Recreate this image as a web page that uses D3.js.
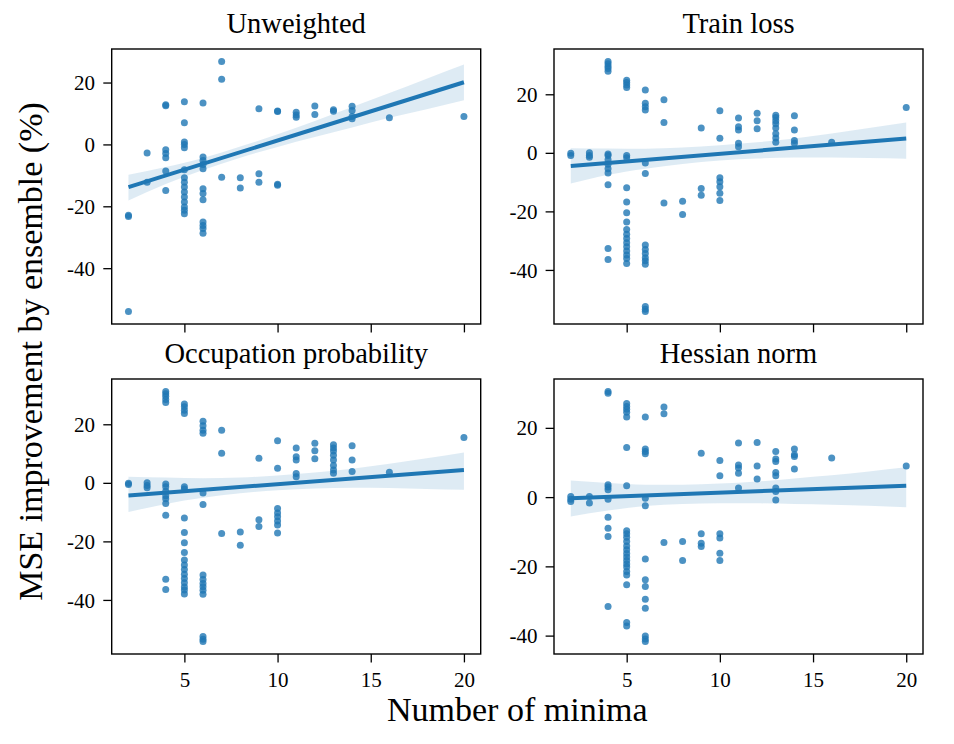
<!DOCTYPE html>
<html><head><meta charset="utf-8">
<script src="https://cdn.jsdelivr.net/npm/d3@7"></script>
<style>
body{margin:0;background:#fff}
svg{display:block}
text{font-family:"Liberation Serif","Times New Roman",serif;fill:#000}
</style>
</head><body>
<svg id="chart" width="954" height="744"></svg>
<script>
// ---------- data ----------
const titles = ["Unweighted", "Train loss", "Occupation probability", "Hessian norm"];
const xTicks = [5, 10, 15, 20];
const yTicks = [20, 0, -20, -40];
const xLabel = "Number of minima";
const yLabel = "MSE improvement by ensemble (%)";

const unweighted = [
  [2,-22.9],[2,-23.3],[2,-54.0],
  [3,-2.8],[3,-12.2],
  [4,12.5],[4,12.8],[4,-1.7],[4,-2.9],[4,-4.3],[4,-8.6],[4,-14.9],
  [5,13.8],[5,7.0],[5,0.8],[5,0.0],[5,-1.1],[5,-8.2],[5,-10.8],[5,-12.2],[5,-13.8],[5,-15.4],[5,-17.0],[5,-18.6],[5,-20.2],[5,-21.3],[5,-22.4],
  [6,13.4],[6,-4.1],[6,-5.2],[6,-6.5],[6,-7.9],[6,-14.3],[6,-15.9],[6,-17.9],[6,-25.1],[6,-26.2],[6,-27.2],[6,-28.7],
  [7,26.8],[7,21.1],[7,-10.6],
  [8,-10.8],[8,-14.1],
  [9,11.5],[9,-9.5],[9,-12.2],
  [10,10.8],[10,10.6],[10,-12.9],[10,-13.2],
  [11,10.4],[11,9.5],[11,8.8],
  [12,12.4],[12,9.7],
  [13,11.2],[13,10.7],
  [14,12.3],[14,11.0],[14,9.0],[14,8.3],
  [16,8.6],
  [20,9.0]
];
const trainLoss = [
  [2,-0.1],[2,-0.9],
  [3,0.0],[3,-0.9],[3,-1.5],
  [4,31.2],[4,30.4],[4,29.6],[4,28.8],[4,27.9],[4,-0.4],[4,-0.9],[4,-2.4],[4,-3.9],[4,-5.4],[4,-6.9],[4,-10.9],[4,-32.7],[4,-36.4],
  [5,24.8],[5,24.0],[5,23.2],[5,22.3],[5,-0.9],[5,-1.7],[5,-11.9],[5,-16.8],[5,-20.5],[5,-23.6],[5,-26.2],[5,-27.8],[5,-29.3],[5,-30.7],[5,-32.1],[5,-33.5],[5,-34.9],[5,-36.1],[5,-37.8],
  [6,21.5],[6,16.9],[6,15.7],[6,14.6],[6,-3.5],[6,-7.1],[6,-31.5],[6,-33.0],[6,-34.4],[6,-35.8],[6,-36.9],[6,-38.1],[6,-52.5],[6,-53.4],[6,-54.2],
  [7,18.1],[7,10.4],[7,-17.1],
  [8,-16.5],[8,-21.1],
  [9,8.5],[9,-12.2],[9,-14.5],
  [10,14.4],[10,5.0],[10,-8.5],[10,-9.9],[10,-11.6],[10,-13.8],[10,-16.3],
  [11,11.9],[11,8.9],[11,7.8],[11,3.3],[11,2.1],
  [12,13.5],[12,11.0],[12,8.2],
  [13,12.8],[13,12.1],[13,11.0],[13,9.9],[13,8.5],[13,6.5],[13,5.1],[13,3.6],
  [14,12.7],[14,7.8],[14,4.2],[14,3.3],
  [16,3.6],
  [20,15.5]
];
const occupation = [
  [2,-0.1],[2,-0.6],
  [3,0.0],[3,-0.9],[3,-1.7],
  [4,31.2],[4,30.4],[4,29.6],[4,28.5],[4,27.4],[4,-0.4],[4,-1.3],[4,-2.9],[4,-4.4],[4,-5.4],[4,-7.1],[4,-11.1],[4,-32.9],[4,-36.4],
  [5,26.9],[5,26.0],[5,24.8],[5,23.7],[5,-1.3],[5,-2.1],[5,-12.0],[5,-17.0],[5,-20.5],[5,-23.8],[5,-26.4],[5,-28.1],[5,-29.6],[5,-31.2],[5,-32.7],[5,-34.1],[5,-35.6],[5,-36.6],[5,-38.0],
  [6,21.0],[6,19.5],[6,18.0],[6,16.9],[6,-3.5],[6,-7.4],[6,-31.5],[6,-33.0],[6,-34.4],[6,-35.5],[6,-36.7],[6,-38.1],[6,-52.5],[6,-53.4],[6,-54.2],
  [7,18.0],[7,10.1],[7,-17.3],
  [8,-16.8],[8,-21.3],
  [9,8.4],[9,-12.6],[9,-14.9],
  [10,14.4],[10,5.0],[10,-8.8],[10,-10.3],[10,-11.6],[10,-13.0],[10,-14.4],[10,-17.1],
  [11,11.9],[11,8.9],[11,7.8],[11,3.2],[11,2.1],
  [12,13.5],[12,11.0],[12,8.2],
  [13,13.0],[13,11.9],[13,10.9],[13,9.4],[13,7.8],[13,5.9],[13,4.4],[13,3.3],
  [14,12.7],[14,7.8],[14,3.9],
  [16,3.6],
  [20,15.5]
];
const hessian = [
  [2,0.2],[2,-0.6],[2,-1.3],
  [3,0.2],[3,-1.7],
  [4,30.5],[4,30.0],[4,3.6],[4,2.9],[4,2.1],[4,-0.6],[4,-5.8],[4,-9.0],[4,-11.4],[4,-31.6],
  [5,27.0],[5,26.2],[5,25.4],[5,24.5],[5,23.1],[5,14.3],[5,3.3],[5,-9.7],[5,-10.6],[5,-11.6],[5,-12.8],[5,-14.1],[5,-15.2],[5,-16.3],[5,-17.3],[5,-18.3],[5,-19.3],[5,-20.2],[5,-21.5],[5,-22.5],[5,-25.3],[5,-36.2],[5,-37.2],
  [6,23.1],[6,13.9],[6,13.2],[6,12.5],[6,-0.3],[6,-2.5],[6,-17.9],[6,-23.9],[6,-25.8],[6,-29.5],[6,-32.1],[6,-40.1],[6,-41.0],[6,-41.7],
  [7,26.0],[7,24.1],[7,-13.1],
  [8,-12.8],[8,-18.3],
  [9,12.7],[9,-10.6],[9,-13.3],[9,-14.3],
  [10,10.6],[10,6.2],[10,-10.6],[10,-11.8],[10,-16.2],[10,-18.3],
  [11,15.6],[11,9.3],[11,8.4],[11,6.9],[11,2.6],
  [12,15.8],[12,9.0],[12,5.2],
  [13,13.2],[13,11.0],[13,10.3],[13,7.1],[13,6.2],[13,2.6],[13,1.6],[13,-0.8],
  [14,13.9],[14,12.2],[14,11.7],[14,8.1],
  [16,11.3],
  [20,9.0]
];

// regression fits
const fitX = [2, 20];
const unweightedFit = [-13.8, 20.1];
const trainFit = [-4.5, 4.9];
const occupationFit = [-4.3, 4.4];
const hessianFit = [-0.3, 3.3];

const bandX = [2, 4, 6, 8, 10, 12, 14, 16, 18, 20];
const unweightedLower = [-18.1,-12.8,-8.3,-4.3,-0.8,2.4,5.5,8.6,11.4,14.3];
const unweightedUpper = [-9.8,-7.3,-4.4,-0.7,3.3,7.6,12.1,16.6,21.2,25.8];
const trainLower = [-10.5,-7.5,-5.4,-3.8,-2.6,-1.9,-1.6,-1.6,-1.8,-2.0];
const trainUpper = [1.6,1.5,1.4,1.8,2.6,3.6,4.9,6.6,8.5,10.4];
const occupationLower = [-10.0,-7.2,-5.1,-3.6,-2.5,-1.9,-1.7,-1.8,-2.1,-2.4];
const occupationUpper = [2.1,1.8,1.6,1.8,2.5,3.5,4.8,6.5,8.4,10.4];
const hessianLower = [-5.6,-3.9,-2.6,-2.0,-1.8,-1.8,-2.0,-2.2,-2.5,-2.9];
const hessianUpper = [4.8,4.1,3.6,3.6,3.9,4.5,5.4,6.3,7.4,8.6];

// ---------- layout ----------
const W = 954, H = 744;
const boxes = [
  {left:111.7, right:480.7, top:49,  bottom:324, xlabels:false},
  {left:554,   right:923,   top:49,  bottom:324, xlabels:false},
  {left:111.7, right:480.7, top:379, bottom:654, xlabels:true},
  {left:554,   right:923,   top:379, bottom:654, xlabels:true}
];
const panels = [
  {pts: unweighted, fit: unweightedFit, lo: unweightedLower, hi: unweightedUpper},
  {pts: trainLoss,  fit: trainFit,      lo: trainLower,      hi: trainUpper},
  {pts: occupation, fit: occupationFit, lo: occupationLower, hi: occupationUpper},
  {pts: hessian,    fit: hessianFit,    lo: hessianLower,    hi: hessianUpper}
];
const blue = "#1f77b4";
const tickLen = 8.4, tickPad = 8.2;

const svg = d3.select("#chart");
svg.append("rect").attr("width", W).attr("height", H).attr("fill", "#fff");

panels.forEach((p, i) => {
  const b = boxes[i];
  const xs = p.pts.map(d => d[0]);
  const ys = p.pts.map(d => d[1]).concat(p.lo, p.hi);
  const xMin = d3.min(xs), xMax = d3.max(xs);
  const yMin = d3.min(ys), yMax = d3.max(ys);
  const xm = (xMax - xMin) * 0.05, ym = (yMax - yMin) * 0.05;
  const x = d3.scaleLinear().domain([xMin - xm, xMax + xm]).range([b.left, b.right]);
  const y = d3.scaleLinear().domain([yMin - ym, yMax + ym]).range([b.bottom, b.top]);

  const g = svg.append("g");

  // scatter
  g.append("g").selectAll("circle").data(p.pts).join("circle")
    .attr("cx", d => x(d[0])).attr("cy", d => y(d[1]))
    .attr("r", 3.5).attr("fill", blue).attr("fill-opacity", 0.8);

  // CI band
  const bandData = bandX.map((bx, k) => [bx, p.lo[k], p.hi[k]]);
  g.append("path").datum(bandData)
    .attr("d", d3.area().x(d => x(d[0])).y0(d => y(d[1])).y1(d => y(d[2])).curve(d3.curveMonotoneX))
    .attr("fill", blue).attr("fill-opacity", 0.15).attr("stroke", "none");

  // regression line
  const lineData = fitX.map((fx, k) => [fx, p.fit[k]]);
  g.append("path").datum(lineData)
    .attr("d", d3.line().x(d => x(d[0])).y(d => y(d[1])))
    .attr("fill", "none").attr("stroke", blue).attr("stroke-width", 4);

  // y axis
  const yAxis = d3.axisLeft(y).tickValues(yTicks)
    .tickFormat(d => d < 0 ? "-" + Math.abs(d) : String(d))
    .tickSizeInner(tickLen).tickSizeOuter(0).tickPadding(tickPad);
  const ya = g.append("g").attr("transform", `translate(${b.left},0)`).call(yAxis);
  ya.select(".domain").remove();
  ya.selectAll("line").attr("stroke", "#000").attr("stroke-width", 1.3);
  ya.selectAll("text").attr("font-size", 21).attr("font-family", '"Liberation Serif", serif').attr("dy", "0.34em");

  // x axis
  const xAxis = d3.axisBottom(x).tickValues(xTicks)
    .tickFormat(b.xlabels ? (d => String(d)) : (() => ""))
    .tickSizeInner(tickLen).tickSizeOuter(0).tickPadding(10);
  const xa = g.append("g").attr("transform", `translate(0,${b.bottom})`).call(xAxis);
  xa.select(".domain").remove();
  xa.selectAll("line").attr("stroke", "#000").attr("stroke-width", 1.3);
  xa.selectAll("text").attr("font-size", 21).attr("font-family", '"Liberation Serif", serif');

  // frame
  g.append("rect").attr("x", b.left).attr("y", b.top)
    .attr("width", b.right - b.left).attr("height", b.bottom - b.top)
    .attr("fill", "none").attr("stroke", "#000").attr("stroke-width", 1.4);

  // title
  g.append("text").attr("x", (b.left + b.right) / 2).attr("y", b.top - 16)
    .attr("text-anchor", "middle").attr("font-size", 28.5).text(titles[i]);
});

// shared labels
const cx = (boxes[0].left + boxes[1].right) / 2;
const cy = (boxes[0].top + boxes[2].bottom) / 2;
svg.append("text").attr("x", cx).attr("y", 721).attr("text-anchor", "middle")
  .attr("font-size", 34).text(xLabel);
svg.append("text").attr("transform", `translate(42,${cy}) rotate(-90)`)
  .attr("text-anchor", "middle").attr("font-size", 34).text(yLabel);
</script>
</body></html>
